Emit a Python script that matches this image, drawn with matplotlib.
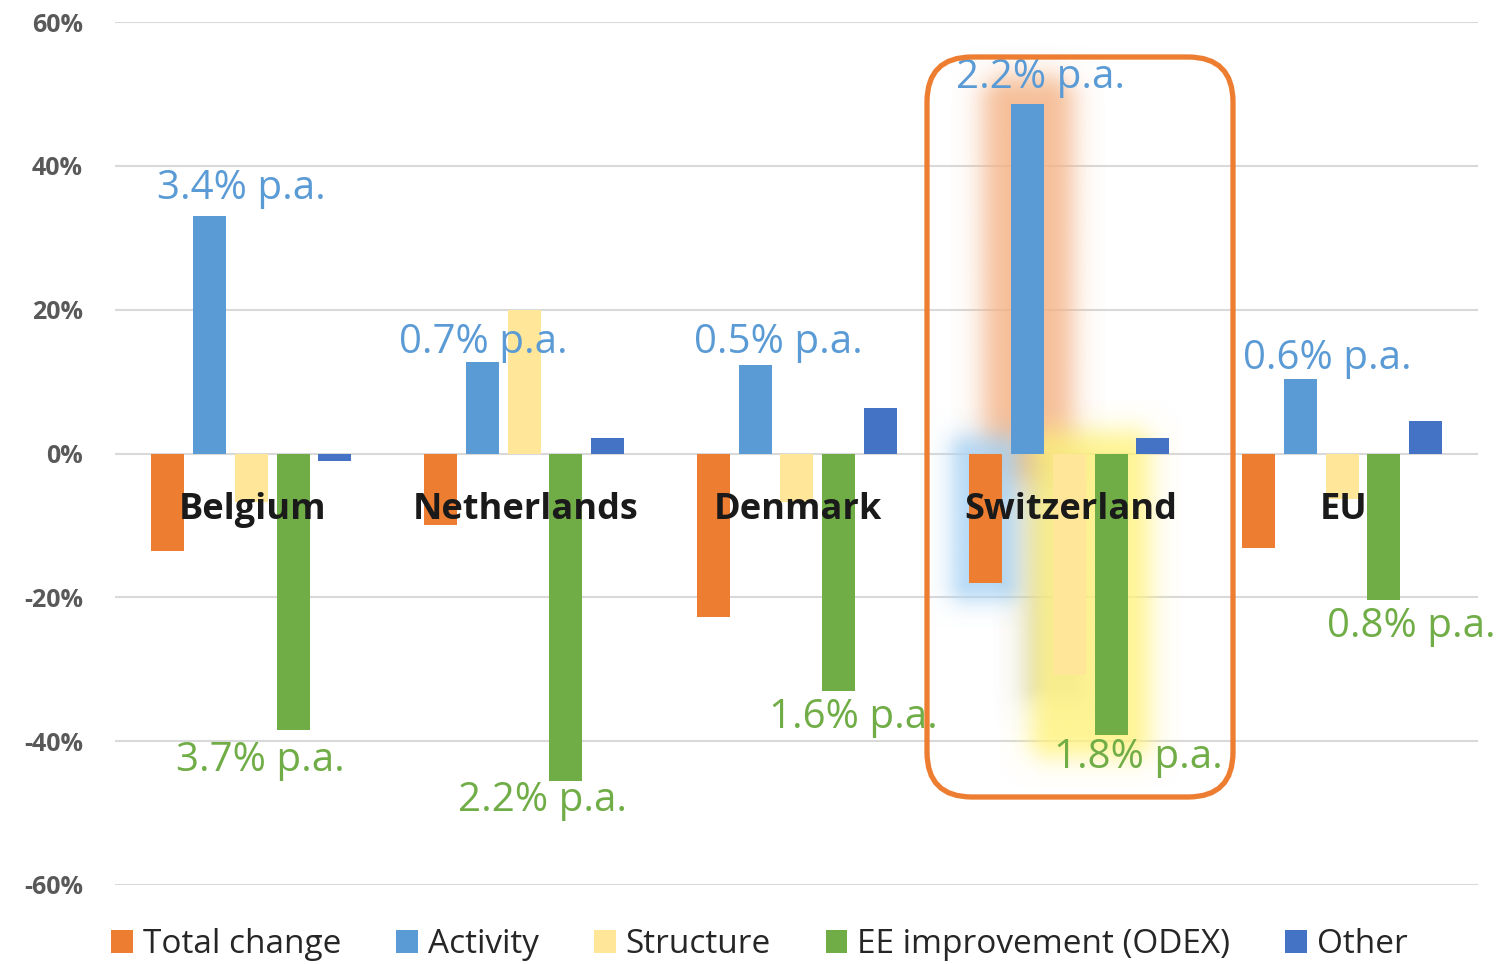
import numpy as np
import matplotlib
matplotlib.use("Agg")
import matplotlib.pyplot as plt
from matplotlib.patches import FancyBboxPatch, Patch
from matplotlib.colors import to_rgb

# data (percent change)
categories = ['Belgium', 'Netherlands', 'Denmark', 'Switzerland', 'EU']
series_names = ['Total change', 'Activity', 'Structure', 'EE improvement (ODEX)', 'Other']
total_change = [-13.6, -10.0, -22.8, -18.0, -13.2]
activity = [33.0, 12.7, 12.3, 48.6, 10.4]
structure = [-6.8, 20.0, -6.8, -30.8, -6.3]
ee_improvement = [-38.4, -45.5, -33.0, -39.2, -20.3]
other = [-1.0, 2.2, 6.4, 2.1, 4.5]

# annual rates written next to the activity / EE bars
activity_rates = ['3.4% p.a.', '0.7% p.a.', '0.5% p.a.', '2.2% p.a.', '0.6% p.a.']
ee_rates = ['3.7% p.a.', '2.2% p.a.', '1.6% p.a.', '1.8% p.a.', '0.8% p.a.']

colors = ['#ED7D31', '#5B9BD5', '#FFE699', '#70AD47', '#4472C4']
blue_txt = '#5B9BD5'
green_txt = '#70AD47'

plt.rcParams['font.family'] = ['Open Sans', 'DejaVu Sans']

fig = plt.figure(figsize=(15.04, 9.64), dpi=100)
ax = fig.add_axes([0.0765, 0.082, 0.9065, 0.895])

values = [total_change, activity, structure, ee_improvement, other]
x = np.arange(len(categories))
pitch = 0.153
width = 0.121

# pixel sizes in data units
px_x = 1.0 / 272.6
px_y = 1.0 / 7.19


def glow(x0, x1, y0, y1, color, pad, soft, amax=0.8, dx=0, dy=0):
    # soft blurred rectangle drawn as an RGBA image (pad / soft in pixels)
    ext = pad + 4 * soft
    ex0, ex1 = x0 - ext * px_x, x1 + ext * px_x
    ey0, ey1 = y0 - ext * px_y, y1 + ext * px_y
    gx = np.linspace(ex0, ex1, 240)
    gy = np.linspace(ey0, ey1, 480)
    X, Y = np.meshgrid(gx, gy)
    ddx = np.maximum(np.maximum(x0 - X, X - x1), 0) / px_x
    ddy = np.maximum(np.maximum(y0 - Y, Y - y1), 0) / px_y
    d = np.sqrt(ddx ** 2 + ddy ** 2)
    a = amax / (1 + np.exp((d - pad) / soft))
    img = np.zeros(X.shape + (4,))
    img[..., :3] = to_rgb(color)
    img[..., 3] = a
    ax.imshow(img, extent=(ex0 + dx * px_x, ex1 + dx * px_x, ey0 + dy * px_y, ey1 + dy * px_y),
              origin='lower', aspect='auto', zorder=1, interpolation='bilinear')


for i, vals in enumerate(values):
    ax.bar(x + (i - 2) * pitch, vals, width, color=colors[i], zorder=2)

# highlight effects on Switzerland
s = 3
xa = s - 1 * pitch
glow(xa - width / 2, xa + width / 2, 0, activity[s], '#F4B183', 28, 8, amax=0.85)
xt = s - 2 * pitch
glow(xt - width / 2, xt + width / 2, total_change[s], 0, '#A9D3F5', 17, 7, amax=0.9)
xs = s
glow(xs - width / 2, xs + width / 2, structure[s], 0, '#A6A6A6', 8, 9,
     amax=0.6, dx=-16, dy=-12)
xe = s + pitch
glow(xs - width / 2, xe + width / 2, ee_improvement[s], 0, '#FFF27A', 22, 8, amax=0.85)

ax.set_xlim(-0.5, 4.5)
ax.set_ylim(-60, 60)
ax.set_yticks(np.arange(-60, 61, 20))
ax.set_yticklabels([f'{v}%' for v in range(-60, 61, 20)], fontsize=18,
                   fontweight='bold', color='#595959')
ax.set_xticks([])
ax.tick_params(axis='y', length=0, pad=23)
ax.grid(axis='y', color='#D9D9D9', lw=1.5, zorder=0)
ax.set_axisbelow(True)
for sp in ax.spines.values():
    sp.set_visible(False)

# category names sit just under the zero line
for i, name in enumerate(categories):
    ax.text(x[i] + 0.005, -7.9, name, ha='center', va='center', fontsize=26,
            fontweight='bold', color='#1A1A1A', zorder=4)

act_pos = [(-0.038, 36.9), (0.850, 15.4), (1.932, 15.4), (2.893, 52.3), (3.946, 13.2)]
ee_pos = [(0.032, -42.7), (1.066, -48.3), (2.207, -36.7), (3.253, -42.3), (4.254, -24.1)]
for lab, (tx, ty) in zip(activity_rates, act_pos):
    ax.text(tx, ty, lab, ha='center', va='center', fontsize=29, color=blue_txt, zorder=5)
for lab, (tx, ty) in zip(ee_rates, ee_pos):
    ax.text(tx, ty, lab, ha='center', va='center', fontsize=29, color=green_txt,
            zorder=5, clip_on=False)

# orange frame around Switzerland (inches)
box = FancyBboxPatch((9.27, 1.67), 3.06, 7.40,
                     boxstyle='round,pad=0,rounding_size=0.45',
                     transform=fig.dpi_scale_trans, facecolor='none',
                     edgecolor='#ED7D31', lw=3.8, zorder=6)
fig.patches.append(box)

handles = [Patch(facecolor=c, edgecolor='none') for c in colors]
fig.legend(handles, series_names, loc='center', bbox_to_anchor=(0.505, 0.02),
           ncol=5, frameon=False, fontsize=24, handlelength=0.65, handleheight=0.65,
           handletextpad=0.3, columnspacing=1.65, labelcolor='#262626')

fig.savefig('out.png', dpi=100)
